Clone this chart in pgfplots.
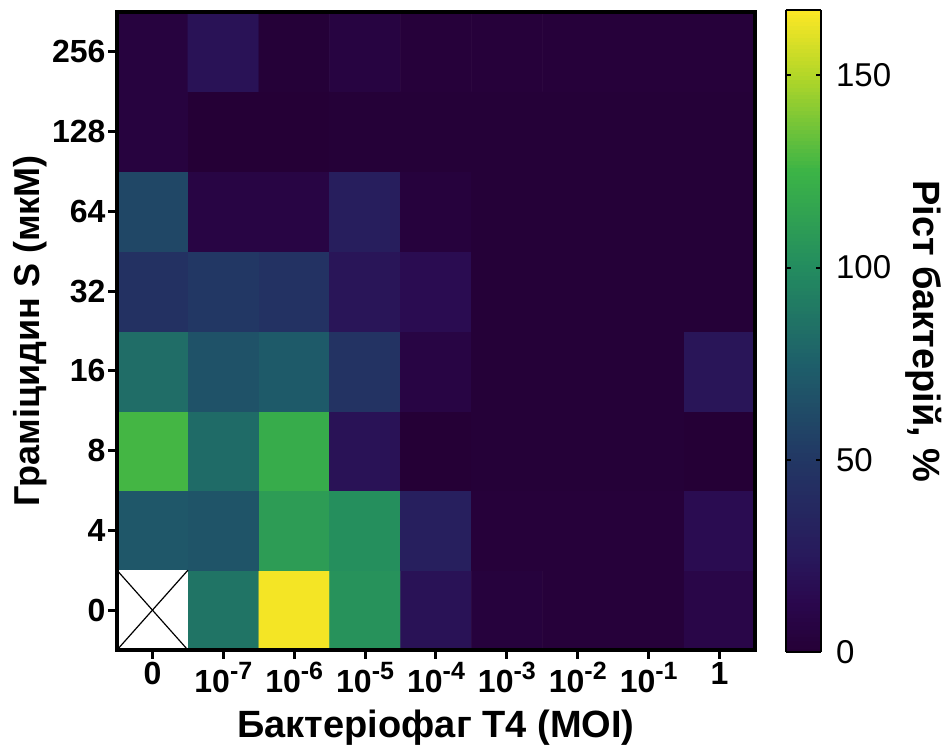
\documentclass[border=0pt]{standalone}
\usepackage{pgfplots}
\pgfplotsset{compat=1.18}
\usepackage{fontspec}
\setmainfont{Liberation Sans}
\newcommand{\tp}[1]{10\raisebox{13pt}{\fontsize{25}{25}\selectfont -#1}}
\begin{document}
\begin{tikzpicture}
\useasboundingbox (-117pt,-101pt) rectangle (831pt,650pt);
\begin{axis}[
  at={(0,0)}, anchor=south west,
  scale only axis, width=638pt, height=638pt,
  xmin=-0.5, xmax=8.5, ymin=-0.5, ymax=7.5,
  axis on top,
  axis line style={line width=3.5pt},
  xtick={0,...,8}, ytick={0,...,7},
  xticklabels={0,\tp{7},\tp{6},\tp{5},\tp{4},\tp{3},\tp{2},\tp{1},1},
  yticklabels={0,4,8,16,32,64,128,256},
  tick align=outside, xtick pos=bottom, ytick pos=left,
  major tick length=9pt,
  tick style={line width=3pt, black},
  ticklabel style={font=\fontsize{32}{34}\selectfont\bfseries},
  yticklabel style={xshift=1pt},
  xlabel={Бактеріофаг T4 (MOI)}, ylabel={Граміцидин S (мкМ)},
  label style={font=\fontsize{38}{40}\selectfont\bfseries},
  xlabel style={at={(0.5,-0.1223)}, anchor=center},
  ylabel style={at={(-0.1364,0.5)}, anchor=center, font=\fontsize{36}{40}\selectfont\bfseries},
  colormap={prism}{rgb255(0)=(37,0,54); rgb255(8)=(42,8,78); rgb255(15)=(40,25,92); rgb255(30)=(34,55,100); rgb255(45)=(30,95,106); rgb255(60)=(35,140,95); rgb255(75)=(60,180,70); rgb255(90)=(180,215,40); rgb255(100)=(253,231,37)},
  point meta min=0, point meta max=167,
  unbounded coords=jump,
  colorbar sampled,
  colorbar style={
    at={(parent axis.south east)}, anchor=south west, xshift=22pt, yshift=-2pt,
    scale only axis, width=35pt, height=642pt,
    samples=168,
    ytick={0,50,100,150}, yticklabels={0,50,100,150},
    yticklabel style={font=\fontsize{33}{36}\selectfont, anchor=west, xshift=12pt},
    ylabel={Ріст бактерій, \%},
    ylabel style={at={(3.943,0.5)}, anchor=center, rotate=180, font=\fontsize{38}{40}\selectfont\bfseries},
    axis line style={line width=2pt},
    major tick length=5pt, tick align=inside, tick style={line width=2pt, black},
    ytick pos=both, yticklabel pos=right,
  },
]
\addplot[matrix plot*, mesh/cols=9, point meta=explicit] table[meta=v] {
x y v
0 0 nan
1 0 87
2 0 165
3 0 104
4 0 20
5 0 4
6 0 2
7 0 2
8 0 10
0 1 70
1 1 68
2 1 110
3 1 102
4 1 30
5 1 2
6 1 2
7 1 2
8 1 16
0 2 127
1 2 82
2 2 120
3 2 20
4 2 0
5 2 1
6 2 1
7 2 1
8 2 0
0 3 83
1 3 67
2 3 72
3 3 47
4 3 8
5 3 1
6 3 1
7 3 1
8 3 22
0 4 45
1 4 50
2 4 46
3 4 22
4 4 16
5 4 1
6 4 1
7 4 1
8 4 1
0 5 60
1 5 8
2 5 8
3 5 29
4 5 4
5 5 1
6 5 1
7 5 1
8 5 1
0 6 5
1 6 0
2 6 0
3 6 1
4 6 1
5 6 1
6 6 1
7 6 1
8 6 1
0 7 5
1 7 20
2 7 1
3 7 6
4 7 2
5 7 2
6 7 2
7 7 2
8 7 2
};
\addplot[fill=white, draw=none, forget plot] coordinates {(-0.5,-0.5) (0.5,-0.5) (0.5,0.5) (-0.5,0.5)} -- cycle;
\addplot[black, line width=1.2pt, forget plot] coordinates {(-0.5,-0.5) (0.5,0.5)};
\addplot[black, line width=1.2pt, forget plot] coordinates {(-0.5,0.5) (0.5,-0.5)};
\end{axis}
\end{tikzpicture}
\end{document}
